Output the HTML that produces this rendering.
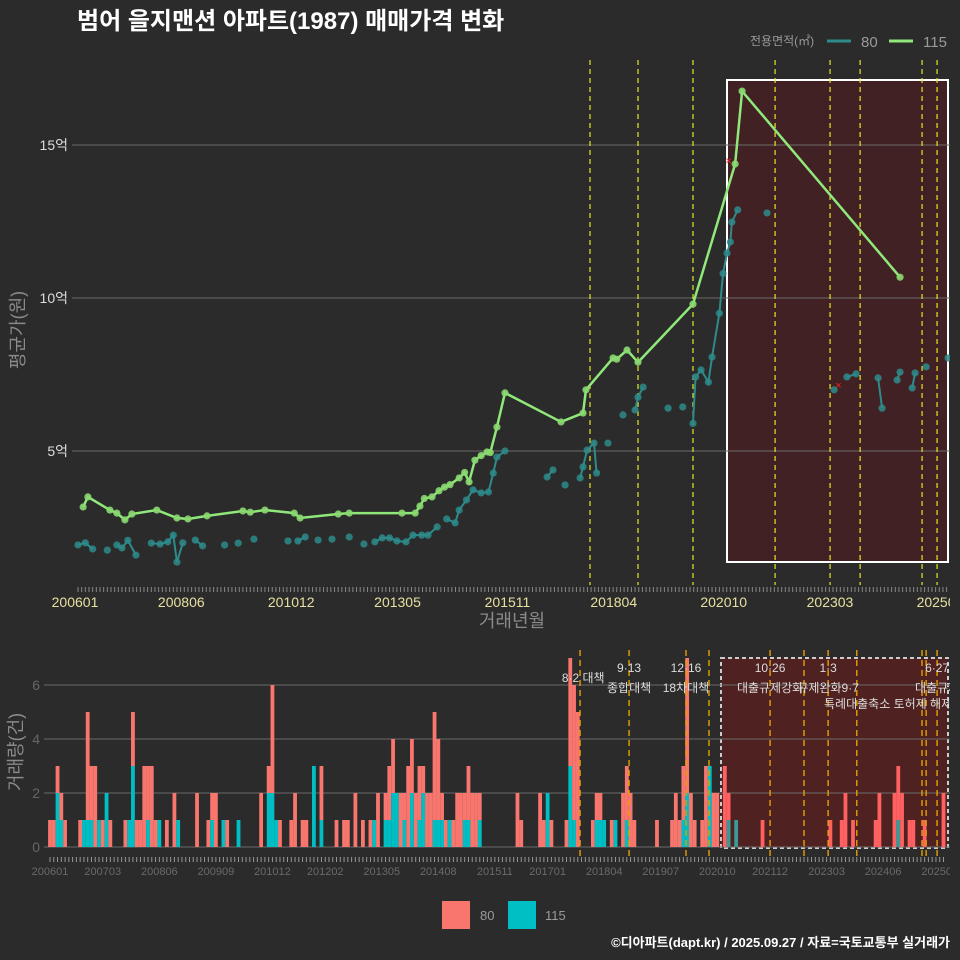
<!DOCTYPE html>
<html><head><meta charset="utf-8">
<style>
html,body{margin:0;padding:0;background:#2b2b2b;}
svg{display:block;font-family:"Liberation Sans","Noto Sans CJK KR",sans-serif;}
</style></head>
<body>
<svg id="chart" width="960" height="960" viewBox="0 0 960 960">
<defs><clipPath id="clipW"><rect x="0" y="0" width="950" height="960"/></clipPath></defs>
<rect width="960" height="960" fill="#2b2b2b"/>
<text x="77" y="29" fill="#ffffff" font-size="24" font-weight="bold">범어 을지맨션 아파트(1987) 매매가격 변화</text>
<g>
<text x="750" y="45" fill="#9a9a9a" font-size="12">전용면적(㎡)</text>
<line x1="827" y1="41" x2="851" y2="41" stroke="#2e8b8b" stroke-width="3"/>
<text x="861" y="47" fill="#9a9a9a" font-size="15">80</text>
<line x1="889" y1="41" x2="913" y2="41" stroke="#90e87a" stroke-width="3"/>
<text x="923" y="47" fill="#9a9a9a" font-size="15">115</text>
</g>
<text transform="translate(24,330) rotate(-90)" text-anchor="middle" fill="#8a8a8a" font-size="18">평균가(원)</text>
<text x="512" y="627" text-anchor="middle" fill="#8a8a8a" font-size="18">거래년월</text>
<text transform="translate(22,752) rotate(-90)" text-anchor="middle" fill="#8a8a8a" font-size="18">거래량(건)</text>
<g>
<rect x="442" y="901" width="28" height="28" fill="#f8766d"/>
<text x="480" y="920" fill="#9a9a9a" font-size="13">80</text>
<rect x="508" y="901" width="28" height="28" fill="#00bfc4"/>
<text x="545" y="920" fill="#9a9a9a" font-size="13">115</text>
</g>
<text x="950" y="947" text-anchor="end" fill="#ffffff" font-size="13" font-weight="bold">©디아파트(dapt.kr) / 2025.09.27 / 자료=국토교통부 실거래가</text>
</svg>
<script>
// ---- top chart data (month index from 2006-01, price in 억) ----
const m115 = [1.4,2.7,8.7,10.6,12.8,14.7,21.5,27,30,35.2,45,47,51,59,60.6,71,74,88.4,92,93.3,94.5,96.6,98.5,100,101.5,104,105.5,106.7,108.3,110,111.6,112.5,114.3,116.5,131.8,137.8,138.6,146,147,149.8,152.8,167.8,179.3,181.2,224.3];
const v115 = [3.17,3.5,3.07,2.97,2.75,2.94,3.07,2.81,2.78,2.88,3.04,3.0,3.07,2.97,2.81,2.94,2.97,2.97,2.97,3.2,3.45,3.5,3.7,3.82,3.9,4.12,4.3,3.99,4.7,4.85,4.97,4.95,5.78,6.9,5.95,6.24,7.0,8.04,8.0,8.3,7.9,9.8,14.38,16.76,10.68];
const m80 = [0,2,4,8,10.6,12,13.6,15.8,20,22.4,24.5,26,27,28.6,32,34,40,43.7,48,57.3,60,62,65.5,69.3,74,78,81,83,85,87,89.5,91.4,93.8,95.5,98,100.6,102.9,104,106,107.8,110,112,113.3,114.3,116.5,128,129.6,132.9,137,137.8,138.9,140.8,141.5,144.6,148.7,152,152.8,154.2,161,165,167.8,168.5,170,172,173,175,176,177.1,178,178.4,180,188,206.3,209.8,212.3,218.3,219.4,223.5,224.3,227.6,228.4,231.4,237.4];
const v80 = [1.93,2.0,1.8,1.76,1.93,1.83,2.08,1.6,1.99,1.96,2.03,2.25,1.37,2.0,2.09,1.9,1.93,1.99,2.12,2.06,2.06,2.19,2.09,2.12,2.19,1.96,2.03,2.16,2.16,2.06,2.03,2.25,2.25,2.25,2.52,2.78,2.65,3.07,3.4,3.73,3.63,3.66,4.28,4.8,5.0,4.15,4.38,3.89,4.12,4.48,5.03,5.26,4.28,5.26,6.18,6.34,6.76,7.09,6.4,6.44,5.9,7.42,7.65,7.25,8.07,9.5,10.8,11.47,11.83,12.48,12.88,12.78,7.0,7.42,7.52,7.39,6.4,7.32,7.58,7.06,7.55,7.75,8.04];
const priceTicks = [5,10,15];
const priceTickLabels = ["5억","10억","15억"];
const topLabelMonths = [0,29,59,88,118,147,177,206,236];
const topLabels = ["200601","200806","201012","201305","201511","201804","202010","202303","202509"];
const topPolicyMonths = [139.7,152.8,167.8,190.2,205.2,213.4,230.3,234.4];
const markerMonths = [177.5,207.5];
const markerValues = [14.5,7.15];
// ---- bottom chart data ----
const volMonths = [0,1,2,3,4,8,9,10,11,12,13,14,15,16,20,21,22,23,24,25,26,27,28,29,31,33,34,39,42,43,44,46,47,50,56,58,59,60,61,64,65,67,68,70,72,76,78,79,81,83,85,86,87,89,90,91,92,93,94,95,96,97,98,99,100,101,102,103,104,105,106,107,108,109,110,111,112,113,114,124,125,130,131,132,133,137,138,139,140,144,145,146,147,149,150,152,153,154,155,161,165,166,167,168,169,170,171,173,174,175,176,177,179,180,182,189,207,210,211,213,219,220,224,225,226,228,229,232,237];
const volTotal = [1,1,3,2,1,1,1,5,3,3,1,1,2,1,1,1,5,1,1,3,3,3,1,1,1,2,1,2,1,2,2,1,1,1,2,3,6,1,1,1,2,1,1,3,3,1,1,1,2,1,1,1,2,2,3,4,2,2,2,3,4,2,3,3,2,2,5,4,2,1,1,1,2,2,2,3,2,2,2,2,1,2,1,2,1,1,7,6,5,1,2,2,1,1,1,2,3,2,1,1,1,2,1,3,7,2,1,1,3,3,2,2,3,2,1,1,1,1,2,1,1,2,2,3,2,1,1,1,2];
const vol115 = [0,0,2,1,0,0,1,1,1,0,1,0,2,0,0,1,3,0,0,0,1,0,0,1,0,0,1,0,0,1,0,1,0,1,0,2,2,1,0,0,0,0,0,3,1,0,0,0,0,0,0,1,0,1,1,2,2,0,1,0,2,0,1,2,0,0,1,1,1,0,1,0,0,0,1,1,0,0,1,0,0,0,0,2,0,0,3,1,0,0,1,1,1,0,1,0,1,0,0,0,0,0,0,1,2,0,0,0,0,3,0,0,0,1,1,0,0,0,0,0,0,0,0,1,0,0,0,0,0];
const volTicks = [0,2,4,6];
const botLabelMonths = [0,14,29,44,59,73,88,103,118,132,147,162,177,191,206,221,236];
const botLabels = ["200601","200703","200806","200909","201012","201202","201305","201408","201511","201701","201804","201907","202010","202112","202303","202406","202509"];
const botPolicyMonths = [140.6,153.6,168.7,174.8,191,200,206.4,214,231.3,232.4,235.3];
const noteMonths = [142.5,153.6,168.7,191,206.4,235.3];
const noteTop = ["","9·13","12·16","10·26","1·3","6·27"];
const noteMid = ["8·2 대책","종합대책","18차대책","대출규제강화","규제완화9·7","대출규제"];

const NS="http://www.w3.org/2000/svg";
const svg=document.getElementById('chart');
function mk(tag,attrs,parent){const e=document.createElementNS(NS,tag);for(const k in attrs)e.setAttribute(k,attrs[k]);(parent||svg).appendChild(e);return e;}
const xTop=m=>78+3.665*m;
const yTop=v=>604-30.6*v;
const xBot=m=>50+3.77*m;
const yBot=v=>847-27*v;

// top chart
const gTop=mk('g',{'clip-path':'url(#clipW)'});


const hl=mk('rect',{x:727,y:80,width:221,height:482,fill:'#4a1f22','fill-opacity':0.75,stroke:'#ffffff','stroke-width':2},gTop);


priceTicks.forEach((t,i)=>{
  const l=mk('line',{x1:72,x2:950,y1:yTop(t),y2:yTop(t),stroke:'#6a6a6a','stroke-width':1},gTop);
  
  
  const tx=mk('text',{x:68,y:yTop(t)+5,'text-anchor':'end',fill:'#dddddd','font-size':14},gTop);
  tx.textContent=priceTickLabels[i];
  
  
});
for(let m=0;m<=237;m++){
  const t=mk('line',{x1:xTop(m),x2:xTop(m),y1:587,y2:592,stroke:'#888','stroke-width':1},gTop);
  
  
}
topLabelMonths.forEach((m,i)=>{
  const tx=mk('text',{x:xTop(m)-3,y:607,'text-anchor':'middle',fill:'#e8e0a0','font-size':14},gTop);
  tx.textContent=topLabels[i];
  
  
});
topPolicyMonths.forEach(m=>{
  const l=mk('line',{x1:xTop(m),x2:xTop(m),y1:60,y2:585,stroke:'#e6e62a','stroke-width':1.2,'stroke-dasharray':'5,4'},gTop);
  
  
});
let seg=[];
function flush(){ if(seg.length>1){const p=mk('polyline',{points:seg.join(' '),fill:'none',stroke:'#2e8b8b','stroke-width':2},gTop);
  
  } seg=[];}
m80.forEach((m,i)=>{ if(i>0 && m-m80[i-1]>2.5) flush(); seg.push(xTop(m)+','+yTop(v80[i])); });
flush();
m80.forEach((m,i)=>{
  const c=mk('circle',{cx:xTop(m),cy:yTop(v80[i]),r:3.6,fill:'#2e8b8b','fill-opacity':0.85},gTop);
  
  
});
const l115=mk('polyline',{points:m115.map((m,i)=>xTop(m)+','+yTop(v115[i])).join(' '),fill:'none',stroke:'#90e87a','stroke-width':2.5},gTop);


m115.forEach((m,i)=>{
  const c=mk('circle',{cx:xTop(m),cy:yTop(v115[i]),r:3.6,fill:'#8ad870','fill-opacity':0.9},gTop);
  
  
});
markerMonths.forEach((m,i)=>{
  const tx=mk('text',{x:xTop(m),y:yTop(markerValues[i])+4,'text-anchor':'middle',fill:'#ff2020','font-size':11},gTop);
  tx.textContent='×';
  
  
});

// bottom chart
const gB=mk('g',{'clip-path':'url(#clipW)'});


const hb=mk('rect',{x:721,y:658,width:227,height:190,fill:'#5a1f1f','fill-opacity':0.8,stroke:'#cccccc','stroke-width':2,'stroke-dasharray':'4,3'},gB);


volTicks.forEach(t=>{
  const l=mk('line',{x1:44,x2:950,y1:yBot(t),y2:yBot(t),stroke:'#6a6a6a','stroke-width':1},gB);
  
  
  const tx=mk('text',{x:40,y:yBot(t)+5,'text-anchor':'end',fill:'#666','font-size':14},gB);
  tx.textContent=String(t);
  
  
});
volMonths.forEach((m,i)=>{
  const x=xBot(m)-1.9, w=3.8;
  const tot=volTotal[i], c=vol115[i];
  const inHl = m>=179;
  if(tot>c){
    const r=mk('rect',{x:x,y:yBot(tot),width:w,height:yBot(c)-yBot(tot),fill:inHl?'#ff6060':'#f8766d'},gB);
    
    
  }
  if(c>0){
    const r=mk('rect',{x:x,y:yBot(c),width:w,height:yBot(0)-yBot(c),fill:inHl?'#3a9a9a':'#00bfc4'},gB);
    
    
  }
});
for(let m=0;m<=237;m++){
  const t=mk('line',{x1:xBot(m),x2:xBot(m),y1:857,y2:862,stroke:'#999','stroke-width':1},gB);
  
  
}
botLabelMonths.forEach((m,i)=>{
  const tx=mk('text',{x:xBot(m),y:875,'text-anchor':'middle',fill:'#6a6a6a','font-size':11},gB);
  tx.textContent=botLabels[i];
  
  
});
botPolicyMonths.forEach(m=>{
  const l=mk('line',{x1:xBot(m),x2:xBot(m),y1:650,y2:858,stroke:'#e6a000','stroke-width':1.4,'stroke-dasharray':'6,4'},gB);
  
  
});
noteMonths.forEach((m,i)=>{
  if(noteTop[i]){
    const t=mk('text',{x:xBot(m),y:672,'text-anchor':'middle',fill:'#dddddd','font-size':12},gB);
    t.textContent=noteTop[i];
    
    
  }
  const t2=mk('text',{x:xBot(m)+(i==0?-4:0),y:i==0?682:692,'text-anchor':'middle',fill:'#dddddd','font-size':12},gB);
  t2.textContent=noteMid[i];
  
  
});
const t3=mk('text',{x:824,y:708,fill:'#dddddd','font-size':12},gB);
t3.textContent='특례대출축소 토허제 해제';


</script>
</body></html>
